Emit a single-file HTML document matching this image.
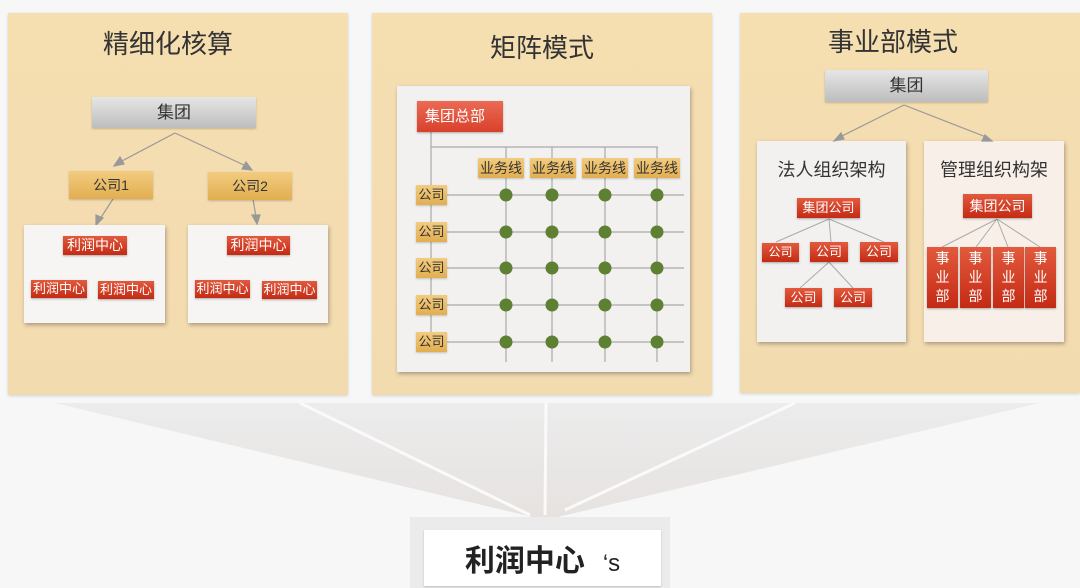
<!DOCTYPE html>
<html><head><meta charset="utf-8"><style>
*{margin:0;padding:0;box-sizing:border-box}
body{width:1080px;height:588px;background:#f7f7f7;position:relative;overflow:hidden;font-family:"Liberation Sans","Noto Sans CJK SC",sans-serif}
.a{position:absolute}
.panel{background:linear-gradient(#f5deb0,#f3dbb0);box-shadow:0 1px 3px rgba(0,0,0,.15)}
.t{font-size:26px;color:#333;text-align:center;white-space:nowrap}
.gray{background:linear-gradient(#e6e6e6,#bdbdbd);color:#333;font-size:17px;text-align:center;box-shadow:0 1px 2px rgba(0,0,0,.2)}
.gold{background:linear-gradient(#f2cc80,#e2ae50);color:#333;text-align:center;box-shadow:0 1px 2px rgba(0,0,0,.2)}
.wb{background:#f2f1ef;box-shadow:1px 2px 4px rgba(0,0,0,.3)}
.red{background:linear-gradient(#e25a3e,#c42a14);color:#fff;text-align:center;font-size:14px;white-space:nowrap;overflow:hidden;box-shadow:0 1px 2px rgba(0,0,0,.3)}
</style></head><body>
<!-- funnel -->
<svg class="a" style="left:0;top:0" width="1080" height="588">
<defs><linearGradient id="fg" x1="0" y1="0" x2="0" y2="1"><stop offset="0" stop-color="#ececec"/><stop offset="1" stop-color="#e6e2e0"/></linearGradient></defs>
<polygon points="55,403 1040,403 545,520" fill="url(#fg)"/>
<line x1="300" y1="403" x2="530" y2="515" stroke="#fafafa" stroke-width="3"/>
<line x1="546" y1="403" x2="545" y2="515" stroke="#fafafa" stroke-width="3"/>
<line x1="795" y1="403" x2="565" y2="510" stroke="#fafafa" stroke-width="3"/>
</svg>
<div class="a" style="left:410px;top:517px;width:260px;height:71px;background:#ebebeb"></div>
<div class="a" style="left:424px;top:530px;width:237px;height:56px;background:#fff;box-shadow:0 1px 2px rgba(0,0,0,.2)"></div>
<div class="a" style="left:424px;top:536px;width:237px;text-align:center;font-size:30px;font-weight:bold;color:#222">利润中心<span style="font-weight:normal;font-size:24px;margin-left:18px">‘s</span></div>

<!-- left panel -->
<div class="a panel" style="left:8px;top:13px;width:340px;height:382px"></div>
<div class="a t" style="left:8px;top:24px;width:320px">精细化核算</div>
<div class="a gray" style="left:92px;top:97px;width:164px;height:31px;line-height:31px">集团</div>
<svg class="a" style="left:0;top:0" width="360" height="240">
<g stroke="#999" stroke-width="1.2" fill="#999">
<line x1="175" y1="133" x2="120" y2="162"/><polygon points="114,166 120,157 124,164"/>
<line x1="175" y1="133" x2="246" y2="166"/><polygon points="252,170 242,169 246,162"/>
<line x1="113" y1="199" x2="100" y2="219"/><polygon points="96,225 96,215 103,218"/>
<line x1="253" y1="199" x2="256" y2="217"/><polygon points="257,224 252,215 260,215"/>
</g></svg>
<div class="a gold" style="left:69px;top:171px;width:84px;height:28px;line-height:28px;font-size:14px">公司1</div>
<div class="a gold" style="left:208px;top:172px;width:84px;height:28px;line-height:28px;font-size:14px">公司2</div>
<div class="a wb" style="left:24px;top:225px;width:141px;height:98px;background:#f6f5f3"></div>
<div class="a wb" style="left:188px;top:225px;width:140px;height:98px;background:#f6f5f3"></div>
<div class="a red" style="left:63px;top:236px;width:64px;height:19px;line-height:19px">利润中心</div>
<div class="a red" style="left:31px;top:280px;width:56px;height:18px;line-height:18px;font-size:13px">利润中心</div>
<div class="a red" style="left:98px;top:281px;width:56px;height:18px;line-height:18px;font-size:13px">利润中心</div>
<div class="a red" style="left:227px;top:236px;width:63px;height:19px;line-height:19px">利润中心</div>
<div class="a red" style="left:195px;top:280px;width:55px;height:18px;line-height:18px;font-size:13px">利润中心</div>
<div class="a red" style="left:262px;top:281px;width:55px;height:18px;line-height:18px;font-size:13px">利润中心</div>

<!-- middle panel -->
<div class="a panel" style="left:372px;top:13px;width:340px;height:382px"></div>
<div class="a t" style="left:372px;top:28px;width:340px">矩阵模式</div>
<div class="a wb" style="left:397px;top:86px;width:293px;height:286px"></div>
<svg class="a" style="left:0;top:0" width="720" height="380">
<g stroke="#aaa" stroke-width="1.2">
<line x1="431" y1="132" x2="431" y2="335"/>
<line x1="431" y1="147" x2="658" y2="147"/>
<line x1="506" y1="147" x2="506" y2="362"/><line x1="552" y1="147" x2="552" y2="362"/>
<line x1="605" y1="147" x2="605" y2="362"/><line x1="657" y1="147" x2="657" y2="362"/>
<line x1="447" y1="195" x2="684" y2="195"/><line x1="447" y1="232" x2="684" y2="232"/>
<line x1="447" y1="268" x2="684" y2="268"/><line x1="447" y1="305" x2="684" y2="305"/>
<line x1="447" y1="342" x2="684" y2="342"/>
</g>
<g fill="#5e8032">
<circle cx="506" cy="195" r="6.5"/><circle cx="552" cy="195" r="6.5"/><circle cx="605" cy="195" r="6.5"/><circle cx="657" cy="195" r="6.5"/>
<circle cx="506" cy="232" r="6.5"/><circle cx="552" cy="232" r="6.5"/><circle cx="605" cy="232" r="6.5"/><circle cx="657" cy="232" r="6.5"/>
<circle cx="506" cy="268" r="6.5"/><circle cx="552" cy="268" r="6.5"/><circle cx="605" cy="268" r="6.5"/><circle cx="657" cy="268" r="6.5"/>
<circle cx="506" cy="305" r="6.5"/><circle cx="552" cy="305" r="6.5"/><circle cx="605" cy="305" r="6.5"/><circle cx="657" cy="305" r="6.5"/>
<circle cx="506" cy="342" r="6.5"/><circle cx="552" cy="342" r="6.5"/><circle cx="605" cy="342" r="6.5"/><circle cx="657" cy="342" r="6.5"/>
</g></svg>
<div class="a red" style="left:417px;top:101px;width:86px;height:31px;line-height:31px;font-size:15px;text-align:left;padding-left:8px;background:linear-gradient(#ec6a55,#d8412c)">集团总部</div>
<div class="a gold" style="left:478px;top:158px;width:46px;height:20px;line-height:20px;font-size:14px">业务线</div>
<div class="a gold" style="left:530px;top:158px;width:46px;height:20px;line-height:20px;font-size:14px">业务线</div>
<div class="a gold" style="left:582px;top:158px;width:46px;height:20px;line-height:20px;font-size:14px">业务线</div>
<div class="a gold" style="left:634px;top:158px;width:46px;height:20px;line-height:20px;font-size:14px">业务线</div>
<div class="a gold" style="left:416px;top:185px;width:31px;height:20px;line-height:20px;font-size:13px">公司</div>
<div class="a gold" style="left:416px;top:222px;width:31px;height:20px;line-height:20px;font-size:13px">公司</div>
<div class="a gold" style="left:416px;top:258px;width:31px;height:20px;line-height:20px;font-size:13px">公司</div>
<div class="a gold" style="left:416px;top:295px;width:31px;height:20px;line-height:20px;font-size:13px">公司</div>
<div class="a gold" style="left:416px;top:332px;width:31px;height:20px;line-height:20px;font-size:13px">公司</div>

<!-- right panel -->
<div class="a panel" style="left:740px;top:13px;width:340px;height:380px"></div>
<div class="a t" style="left:740px;top:22px;width:306px">事业部模式</div>
<div class="a gray" style="left:825px;top:70px;width:163px;height:32px;line-height:32px">集团</div>
<div class="a wb" style="left:757px;top:141px;width:149px;height:201px"></div>
<div class="a wb" style="left:924px;top:141px;width:140px;height:201px;background:#f8efe8"></div>
<svg class="a" style="left:720px;top:0" width="360" height="330">
<g stroke="#999" stroke-width="1.2" fill="#999">
<line x1="904" y1="105" x2="842" y2="136" transform="translate(-720,0)"/>
<polygon points="114,141 121,133 124,139"/>
<line x1="184" y1="105" x2="266" y2="137"/><polygon points="272,141 262,141 265,135"/>
</g>
<g stroke="#aaa" stroke-width="1">
<line x1="109" y1="219" x2="56" y2="242"/><line x1="109" y1="219" x2="111" y2="242"/><line x1="109" y1="219" x2="164" y2="242"/>
<line x1="109" y1="262" x2="80" y2="288"/><line x1="109" y1="262" x2="133" y2="288"/>
<line x1="277" y1="219" x2="222" y2="247"/><line x1="277" y1="219" x2="256" y2="247"/><line x1="277" y1="219" x2="288" y2="247"/><line x1="277" y1="219" x2="320" y2="247"/>
</g></svg>
<div class="a" style="left:757px;top:156px;width:149px;text-align:center;font-size:18px;color:#333">法人组织架构</div>
<div class="a" style="left:924px;top:156px;width:140px;text-align:center;font-size:18px;color:#333">管理组织构架</div>
<div class="a red" style="left:797px;top:198px;width:63px;height:20px;line-height:20px;font-size:13px">集团公司</div>
<div class="a red" style="left:762px;top:243px;width:37px;height:19px;line-height:19px;font-size:12px">公司</div>
<div class="a red" style="left:810px;top:242px;width:38px;height:20px;line-height:20px;font-size:13px">公司</div>
<div class="a red" style="left:860px;top:242px;width:38px;height:20px;line-height:20px;font-size:13px">公司</div>
<div class="a red" style="left:785px;top:288px;width:37px;height:19px;line-height:19px;font-size:13px">公司</div>
<div class="a red" style="left:834px;top:288px;width:38px;height:19px;line-height:19px;font-size:13px">公司</div>
<div class="a red" style="left:963px;top:194px;width:69px;height:24px;line-height:24px;font-size:14px">集团公司</div>
<div class="a red" style="left:927px;top:247px;width:31px;height:61px;font-size:14px;line-height:19px;padding-top:2px;white-space:normal">事<br>业<br>部</div>
<div class="a red" style="left:960px;top:247px;width:31px;height:61px;font-size:14px;line-height:19px;padding-top:2px;white-space:normal">事<br>业<br>部</div>
<div class="a red" style="left:993px;top:247px;width:31px;height:61px;font-size:14px;line-height:19px;padding-top:2px;white-space:normal">事<br>业<br>部</div>
<div class="a red" style="left:1025px;top:247px;width:31px;height:61px;font-size:14px;line-height:19px;padding-top:2px;white-space:normal">事<br>业<br>部</div>
</body></html>
